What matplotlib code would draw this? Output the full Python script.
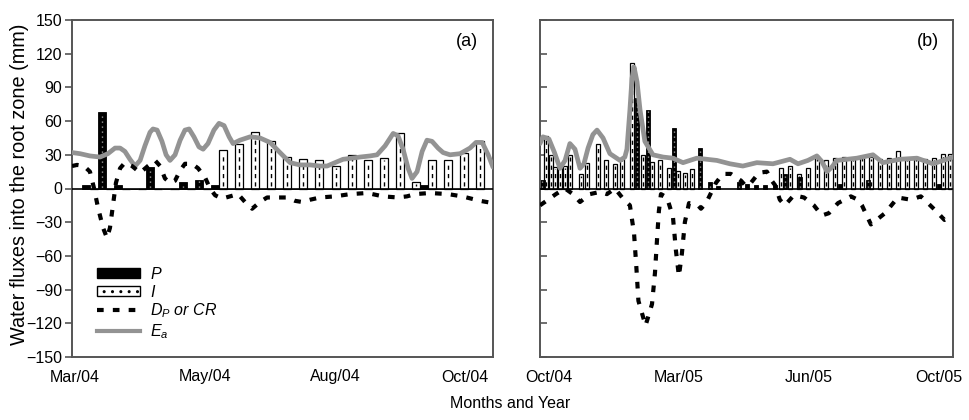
import matplotlib
matplotlib.use("Agg")
import matplotlib.pyplot as plt
from matplotlib.patches import Rectangle
from matplotlib.lines import Line2D

plt.rcParams['font.family'] = ['Liberation Sans', 'DejaVu Sans']
plt.rcParams['mathtext.fontset'] = 'custom'
plt.rcParams['mathtext.it'] = 'Liberation Sans:italic'
plt.rcParams['mathtext.rm'] = 'Liberation Sans'

# ---------------- data ----------------
# Panel (a): weekly slots, Mar/04 - Oct/04
a_week = list(range(25))
a_P = [3, 68, 3, 0, 19, 0, 5.5, 8, 3, 0, 0, 0, 0, 0, 0, 0, 0, 0, 0, 0, 0, 3, 0, 0, 0]
a_I = [0, 0, 0, 0, 0, 0, 0, 0, 34, 40, 50, 42, 28, 26, 25, 20, 30, 25, 27, 49, 6, 25, 25, 32, 42]

a_Ea_day = [-1.3, 2.2, 6.5, 10.9, 14.3, 17.4, 19.6, 21.7, 23.9, 26.1, 28.3, 30.4, 32.6, 33.9,
            35.7, 37.8, 39.6, 41.3, 43.5, 45.7, 47.8, 49.6, 51.7, 53.9, 55.7, 57.8, 60.4, 62.6,
            64.8, 67.0, 68.7, 71.7, 76.1, 80.4, 84.8, 89.1, 93.5, 97.8, 102.2, 106.5, 109.6,
            113.0, 116.5, 120.4, 123.9, 128.3, 131.3, 134.8, 138.3, 140.4, 142.6, 144.8, 146.5,
            148.7, 150.9, 153.0, 155.2, 157.8, 160.0, 163.0, 167.4, 171.7, 174.3, 177.0, 179.6,
            181.7]
a_Ea = [32, 31, 29, 28, 31, 36, 36, 33, 26, 20, 25, 38, 50, 53,
        52, 42, 30, 25, 30, 43, 52, 53, 46, 37, 35, 40, 52, 58,
        56, 46, 40, 43, 46, 45, 41, 32, 23, 21, 21, 20, 20,
        23, 26, 27, 28, 29, 30, 38, 49, 47, 35, 18, 9,
        15, 33, 43, 42, 36, 32, 30, 31, 36, 41, 41, 30,
        19]

a_D_day = [-1.3, 0.9, 3.9, 6.5, 8.3, 10.0, 12.2, 13.9, 15.2, 16.5, 17.8, 19.6, 21.7, 24.8,
           28.3, 31.7, 34.8, 37.0, 39.1, 41.3, 43.5, 45.7, 47.8, 50.9, 53.5, 56.5, 58.7, 60.9,
           63.9, 67.4, 70.9, 73.9, 77.0, 80.4, 83.5, 87.8, 92.2, 95.7, 98.7, 102.2, 106.5,
           113.0, 119.6, 127.0, 133.9, 140.4, 144.3, 147.8, 154.3, 162.2, 168.3, 176.1, 181.7]
a_D = [20, 21, 20, 15, 0, -17, -35, -44, -35, -15, 5, 18, 23, 20,
       14, 20, 25, 20, 9, 5, 7, 16, 22, 22, 18, 10, 0, -6,
       -9, -7, -5, -12, -18, -12, -8, -8, -8, -11, -12, -10, -8,
       -7, -5, -4, -7, -8, -7, -5, -4, -5, -7, -11, -13]

# Panel (b): Oct/04 - Oct/05 (day positions)
b_P_day = [-2.9, 38.3, 43.0, 54.3, 65.6, 70.0, 73.5, 82.6, 86.1, 90.0, 93.9, 98.3, 102.6, 109.1, 126.5, 138.7, 169.6]
b_P = [8, 81, 70, 54, 36, 6, 2, 6, 4, 3, 3, 3, 13, 10, 4, 8, 4]
b_I_day = [-1.3, 0.9, 2.6, 4.8, 7.0, 9.1, 13.9, 16.5, 21.3, 24.8, 28.7, 31.7, 36.1,
           40.9, 44.8, 48.3, 52.2, 56.1, 59.1, 62.2,
           100.9, 104.8, 108.7, 112.6, 116.5, 120.4, 124.3, 128.3, 132.2, 136.1, 140.0,
           143.9, 147.8, 151.7, 155.7, 159.6, 163.5, 167.4, 171.3, 174.4]
b_I = [47, 30, 19, 18, 20, 30, 13, 23, 40, 25, 22, 27, 112,
       30, 24, 25, 18, 16, 14, 17,
       18, 20, 13, 18, 29, 25, 27, 28, 27, 29, 28,
       26, 27, 33, 27, 28, 26, 27, 31, 31]
b_Ea_day = [-3.9, -2.6, 0.0, 2.4, 4.8, 7.0, 9.1, 11.3, 13.5, 15.2, 17.0, 19.1, 20.9, 23.5,
            26.5, 30.9, 33.0, 33.9, 35.2, 36.1, 37.0, 38.3, 39.6, 41.7, 45.2, 49.6, 53.9,
            58.3, 64.3, 73.0, 78.7, 84.3, 90.4, 97.4, 104.8, 108.3, 112.6, 116.5, 118.7,
            120.9, 123.0, 125.2, 129.6, 133.9, 140.9, 145.2, 152.6, 160.0, 167.0, 173.0, 175.7]
b_Ea = [40, 46, 44, 32, 18, 25, 40, 35, 18, 22, 36, 48, 52, 45,
        31, 25, 28, 35, 70, 98, 108, 95, 70, 42, 30, 28, 27,
        23, 27, 25, 22, 20, 23, 22, 26, 22, 25, 29, 24,
        15, 19, 25, 26, 27, 30, 23, 26, 27, 22, 26, 28]
b_D_day = [-3.9, -0.4, 3.0, 7.0, 10.4, 13.5, 17.8, 22.2, 25.2, 28.7, 32.6, 35.2, 37.0,
           38.0, 38.9, 42.0, 44.8, 46.1, 47.0, 47.8, 48.7, 51.3, 53.9, 55.2, 56.5, 57.8,
           59.1, 60.9, 64.8, 66.1, 68.3, 72.6, 75.6, 79.1, 83.5, 85.7, 87.8, 91.3, 94.8,
           96.5, 98.3, 100.4, 102.6, 106.5, 110.9, 115.2, 118.7, 121.7, 125.7, 131.3,
           134.3, 136.1, 140.0, 146.1, 151.7, 157.4, 161.7, 164.8, 168.3, 172.0, 175.7]
b_D = [-15, -10, -5, 0, -5, -12, -5, -3, -5, 0, -10, -15, -40,
       -70, -100, -122, -103, -75, -45, -20, -5, -8, -25, -55, -78, -58,
       -30, -13, -15, -18, -13, 5, 13, 13, 7, 2, 5, 14, 15,
       8, 3, -10, -15, -6, -8, -15, -24, -22, -13, -7,
       -10, -15, -32, -22, -8, -10, -7, -13, -20, -28, -25]

x_ticks = [0, 56.5, 113, 169.5]
a_ticklabels = ['Mar/04', 'May/04', 'Aug/04', 'Oct/04']
b_ticklabels = ['Oct/04', 'Mar/05', 'Jun/05', 'Oct/05']
y_ticks = list(range(-150, 151, 30))

# ---------------- drawing ----------------
FS = 11.5
W, H = 970, 420
fig = plt.figure(figsize=(W / 100, H / 100), dpi=100)
axA = fig.add_axes([72 / W, (H - 357) / H, 421 / W, 337 / H])
axB = fig.add_axes([540 / W, (H - 357) / H, 413 / W, 337 / H])

EA_COLOR = '#939393'
SPINE = '#555555'


def draw_P(ax, x, v, w):
    ax.bar(x, v, width=w, color='black', edgecolor='black', linewidth=0.6, zorder=2)
    for xi, vi in zip(x, v):
        if vi > 4:
            ax.vlines(xi, 1, vi - 1, colors='white', linestyles=(0, (0.6, 3.0)), linewidth=1.0, zorder=3)


def draw_I(ax, x, v, w):
    ax.bar(x, v, width=w, color='white', edgecolor='black', linewidth=0.9, zorder=2)
    for xi, vi in zip(x, v):
        if vi > 4:
            ax.vlines(xi, 2, vi - 2, colors='black', linestyles=(0, (3, 3)), linewidth=1.0, zorder=3)


def draw_lines(ax, ea_x, ea, d_x, d):
    ax.plot(ea_x, ea, color=EA_COLOR, linewidth=3.4, solid_joinstyle='round',
            solid_capstyle='round', zorder=4)
    ax.plot(d_x, d, color='black', linewidth=3.0, dashes=(1.6, 2.2), zorder=5)


# Panel (a)
a_center = [6.5 + 7 * k for k in a_week]
draw_P(axA, [c - 1.75 for c in a_center], a_P, 3.5)
draw_I(axA, [c + 1.75 for c in a_center], a_I, 3.5)
draw_lines(axA, a_Ea_day, a_Ea, a_D_day, a_D)

# Panel (b)
draw_I(axB, b_I_day, b_I, 2.0)
draw_P(axB, b_P_day, b_P, 2.0)
draw_lines(axB, b_Ea_day, b_Ea, b_D_day, b_D)

for ax, xl, labs, tag in [(axA, (-1.3, 181.7), a_ticklabels, '(a)'),
                          (axB, (-3.9, 175.7), b_ticklabels, '(b)')]:
    ax.set_xlim(*xl)
    ax.set_ylim(-150, 150)
    ax.set_yticks(y_ticks)
    ax.set_xticks(x_ticks)
    ax.set_xticklabels(labs, fontsize=FS)
    ax.tick_params(axis='x', length=0, pad=9)
    ax.axhline(0, color='black', linewidth=1.2, zorder=6)
    for s in ax.spines.values():
        s.set_color(SPINE)
        s.set_linewidth(1.4)
    ax.text(0.965, 0.935, tag, transform=ax.transAxes, ha='right', va='center', fontsize=13)

axA.tick_params(axis='y', direction='out', length=5, width=1.2, color=SPINE, labelsize=FS, pad=2)
axB.tick_params(axis='y', direction='in', length=5, width=1.2, color=SPINE, labelleft=False)

fig.text(20 / W, 1 - 184 / H, 'Water fluxes into the root zone (mm)', rotation=90,
         ha='center', va='center', fontsize=14.3)
fig.text(510 / W, 1 - 404 / H, 'Months and Year', ha='center', va='center', fontsize=FS)

# Legend
handles = [Rectangle((0, 0), 1, 1, facecolor='black', edgecolor='black'),
           Rectangle((0, 0), 1, 1, facecolor='white', edgecolor='black', hatch='..'),
           Line2D([], [], color='black', linewidth=3.0, dashes=(1.6, 2.2)),
           Line2D([], [], color=EA_COLOR, linewidth=3.0)]
labels = [r'$P$', r'$I$', r'$D_P\ or\ CR$', r'$E_a$']
axA.legend(handles, labels, loc='upper left', bbox_to_anchor=(0.045, 0.29), frameon=False,
           fontsize=FS, handlelength=2.7, handleheight=0.6, labelspacing=0.12, handletextpad=0.6,
           borderaxespad=0)

fig.savefig('out.png', dpi=100)
